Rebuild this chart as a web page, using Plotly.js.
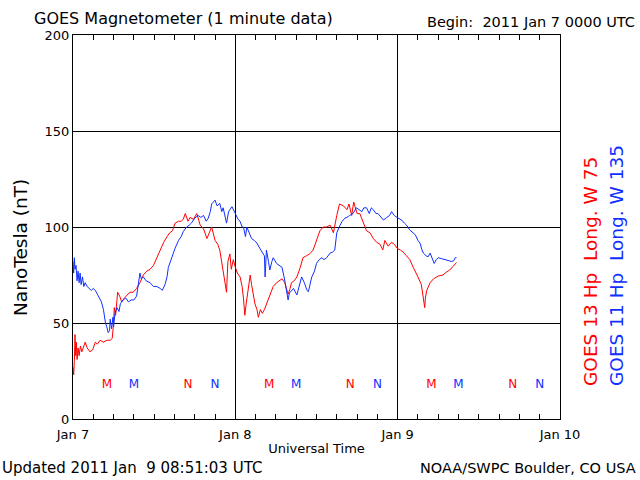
<!DOCTYPE html>
<html>
<head>
<meta charset="utf-8">
<script src="https://cdn.plot.ly/plotly-3.0.1.min.js"></script>
<style>html,body{margin:0;padding:0;background:#fff;}#chart{width:640px;height:480px;}</style>
</head>
<body>
<div id="chart"></div>
<script>
// Hours since 2011 Jan 7 00:00 UTC
const goes13Hours = [0,0.1,0.2,0.3,0.4,0.5,0.6,0.75,0.9,1.1,1.3,1.5,1.8,2.1,2.5,2.9,3.3,3.6,4.0,4.5,5.0,5.5,5.8,6.0,6.1,6.3,6.6,6.9,7.2,7.6,7.9,8.4,8.9,9.4,9.9,10.4,10.9,11.4,11.9,12.4,12.9,13.4,13.9,14.3,14.7,15.1,15.6,16.0,16.3,16.6,17.0,17.3,17.8,18.3,18.8,19.3,19.8,20.2,20.5,21.0,21.4,21.7,22.0,22.2,22.5,22.7,22.9,23.2,23.4,23.7,24.0,24.3,24.7,25.0,25.2,25.4,25.6,25.9,26.2,26.4,26.6,26.9,27.2,27.4,27.7,28.0,28.3,28.6,29.1,29.6,30.1,30.5,30.9,31.3,31.6,31.8,32.1,32.3,32.7,33.1,33.6,34.0,34.5,35.0,35.5,36.0,36.5,37.0,37.5,38.0,38.5,39.0,39.4,40.0,40.5,40.8,41.2,41.5,42.0,42.4,42.9,43.4,43.9,44.4,44.9,45.4,45.8,46.1,46.6,47.1,47.5,47.9,48.4,48.8,49.3,49.8,50.3,50.6,51.0,51.5,51.8,52.0,52.1,52.3,52.8,53.3,54.0,54.7,55.2,55.7,56.2,56.7];
const goes13Values = [27,23,30,44,33,40,31,37,33,38,35,37,40,37,35,36,40,39,41,40,41,41,42,50,58,54,66,64,61,63,64,66,66,68,71,75,77,78,80,84,88,92,95,97,98,102,103,103,104,107,103,105,104,107,101,99,94,97,100,93,91,88,82,78,70,66,82,86,78,83,79,76,74,69,63,54,60,68,75,70,66,60,57,53,57,55,57,60,65,69,71,72,73,71,68,65,68,71,72,74,79,84,85,86,88,93,98,100,100,101,97,106,112,111,109,112,106,113,107,107,102,98,97,94,92,91,88,93,90,92,91,89,88,87,85,83,79,77,74,70,64,58,63,67,71,73,74.5,75,76.5,77.6,79.5,81.5];

const goes11Hours = [0,0.1,0.2,0.3,0.45,0.6,0.75,0.9,1.05,1.2,1.4,1.6,1.8,2.1,2.4,2.7,3.0,3.3,3.6,3.9,4.2,4.5,4.8,5.0,5.2,5.4,5.5,5.7,5.9,6.0,6.2,6.5,6.8,7.0,7.4,7.8,8.2,8.6,9.0,9.4,9.7,9.9,10.1,10.4,10.8,11.4,11.9,12.4,12.9,13.2,13.6,13.9,14.1,14.4,14.6,15.1,15.6,16.0,16.3,16.8,17.2,17.5,18.0,18.5,18.9,19.3,19.7,20.0,20.3,20.5,21.0,21.3,21.7,22.0,22.2,22.5,22.7,23.0,23.5,24.0,24.4,24.7,25.0,25.2,25.5,25.7,26.0,26.4,26.8,27.2,27.6,28.0,28.3,28.4,28.5,28.6,28.9,29.1,29.4,29.6,30.1,30.5,30.9,31.3,31.6,31.8,32.0,32.3,32.6,33.1,33.5,33.8,34.2,34.6,34.8,35.3,35.7,36.0,36.4,36.8,37.1,37.5,38.0,38.4,38.7,39.0,39.5,39.8,40.2,40.5,40.9,41.4,41.9,42.3,42.7,43.0,43.4,43.8,44.1,44.4,44.8,45.1,45.5,45.9,46.4,46.8,47.1,47.5,47.9,48.3,48.6,49.0,49.3,49.8,50.2,50.6,51.0,51.3,51.6,51.8,52.2,52.5,52.8,53.1,53.4,53.7,54.0,54.5,55.0,55.5,56.0,56.3,56.5,56.7];
const goes11Values = [82,76,84,78,80,72,77,71,76,70,74,69,71,69,68,67,68,67,65,63,61,57,50,48,45,46,52,47,53,48,55,58,56,60,62,63,61,62,62,64,70,76,73,74,72,71,69,69,68,67,70,74,79,82,84.5,89,93,95,97.6,100,101,102,104.6,106,105,106,103,104.6,108,112,114,111,112.3,108,110,106,102,108,110.6,107,104,103,100,100,95,100,97,94,93,91.6,89,86.4,85,74,86,88,82,77.6,82,84,81,80,79,72.4,66,62,65.6,67,68,64.6,70,74,71,67,66.3,74,77,81,83,84,83,84,86.4,87,88,97,101,103,104.6,105,106,107,110,109,108,110,110,107,110,109,107,107,105,103.6,105,106,108,106,105,104,103.6,102,101,98.4,97,96,93,91.6,88,86.4,85,84.5,86.4,84,81,83,84,83.5,83,82.5,82,82.5,84,84];

// Local midnight (M) and noon (N) markers
const goes13MNHours = [5,17,29,41,53,65];
const goes13MNText = ["M","N","M","N","M","N"];
const goes11MNHours = [9,21,33,45,57,69];
const goes11MNText = ["M","N","M","N","M","N"];
const mnLevel = 17.7;

const xTickVals = [0,24,48,72];
const xTickText = ["Jan 7","Jan 8","Jan 9","Jan 10"];
const yTickVals = [0,50,100,150,200];

const RED = "#ff0000", BLUE = "#1030ff";
const FONT = "DejaVu Sans, Liberation Sans, sans-serif";

const traces = [
  {x: goes13Hours, y: goes13Values, type: "scatter", mode: "lines", name: "GOES 13 Hp", line: {color: RED, width: 1}, hoverinfo: "skip"},
  {x: goes11Hours, y: goes11Values, type: "scatter", mode: "lines", name: "GOES 11 Hp", line: {color: BLUE, width: 1}, hoverinfo: "skip"},
  {x: goes13MNHours, y: goes13MNHours.map(() => mnLevel), text: goes13MNText, type: "scatter", mode: "text", textfont: {color: RED, size: 12, family: FONT}, showlegend: false, hoverinfo: "skip"},
  {x: goes11MNHours, y: goes11MNHours.map(() => mnLevel), text: goes11MNText, type: "scatter", mode: "text", textfont: {color: BLUE, size: 12, family: FONT}, showlegend: false, hoverinfo: "skip"}
];

const L = 73, T = 35, W = 487, H = 384;
const px = v => (v - L) / W;
const py = v => (T + H - v) / H;

const layout = {
  width: 640, height: 480,
  margin: {l: L, r: 640 - L - W, t: T, b: 480 - T - H},
  paper_bgcolor: "#fff", plot_bgcolor: "#fff",
  showlegend: false,
  font: {family: FONT, color: "#000", size: 13},
  xaxis: {
    range: [0, 72], tickvals: xTickVals, ticktext: xTickText,
    showgrid: true, gridcolor: "#000", gridwidth: 1,
    showline: true, linecolor: "#000", linewidth: 1, mirror: "allticks",
    ticks: "inside", ticklen: 5, tickcolor: "#000", ticklabelstandoff: 3,
    minor: {dtick: 3, ticks: "inside", ticklen: 5, tickcolor: "#000", showgrid: false},
    zeroline: false, fixedrange: true,
    tickfont: {size: 13, family: FONT},
    title: {text: "Universal Time", font: {size: 13, family: FONT}, standoff: 3}
  },
  yaxis: {
    range: [0, 200], tickvals: yTickVals,
    showgrid: true, gridcolor: "#000", gridwidth: 1,
    showline: true, linecolor: "#000", linewidth: 1, mirror: true,
    ticks: "", zeroline: false, fixedrange: true,
    tickfont: {size: 13, family: FONT}
  },
  annotations: [
    {text: "NanoTesla (nT)", xref: "paper", yref: "paper", x: px(20), y: py(248), xanchor: "center", yanchor: "middle", textangle: -90, showarrow: false, font: {size: 18.5, family: FONT}},
    {text: "GOES Magnetometer (1 minute data)", xref: "paper", yref: "paper", x: px(32), y: py(18), xanchor: "left", yanchor: "middle", showarrow: false, font: {size: 16, family: FONT}},
    {text: "Begin:  2011 Jan 7 0000 UTC", xref: "paper", yref: "paper", x: px(637), y: py(22), xanchor: "right", yanchor: "middle", showarrow: false, font: {size: 14.5, family: FONT}},
    {text: "GOES 13 Hp\u00a0\u00a0Long. W 75", xref: "paper", yref: "paper", x: px(590), y: py(272), xanchor: "center", yanchor: "middle", textangle: -90, showarrow: false, font: {size: 18.5, family: FONT, color: RED}},
    {text: "GOES 11 Hp\u00a0\u00a0Long. W 135", xref: "paper", yref: "paper", x: px(616), y: py(266), xanchor: "center", yanchor: "middle", textangle: -90, showarrow: false, font: {size: 18.5, family: FONT, color: BLUE}},
    {text: "Updated 2011 Jan\u00a0\u00a09 08:51:03 UTC", xref: "paper", yref: "paper", x: px(0), y: py(468), xanchor: "left", yanchor: "middle", showarrow: false, font: {size: 15, family: FONT}},
    {text: "NOAA/SWPC Boulder, CO USA", xref: "paper", yref: "paper", x: px(638), y: py(468), xanchor: "right", yanchor: "middle", showarrow: false, font: {size: 14.5, family: FONT}}
  ]
};

Plotly.newPlot("chart", traces, layout, {staticPlot: true, displayModeBar: false});
</script>
</body>
</html>
